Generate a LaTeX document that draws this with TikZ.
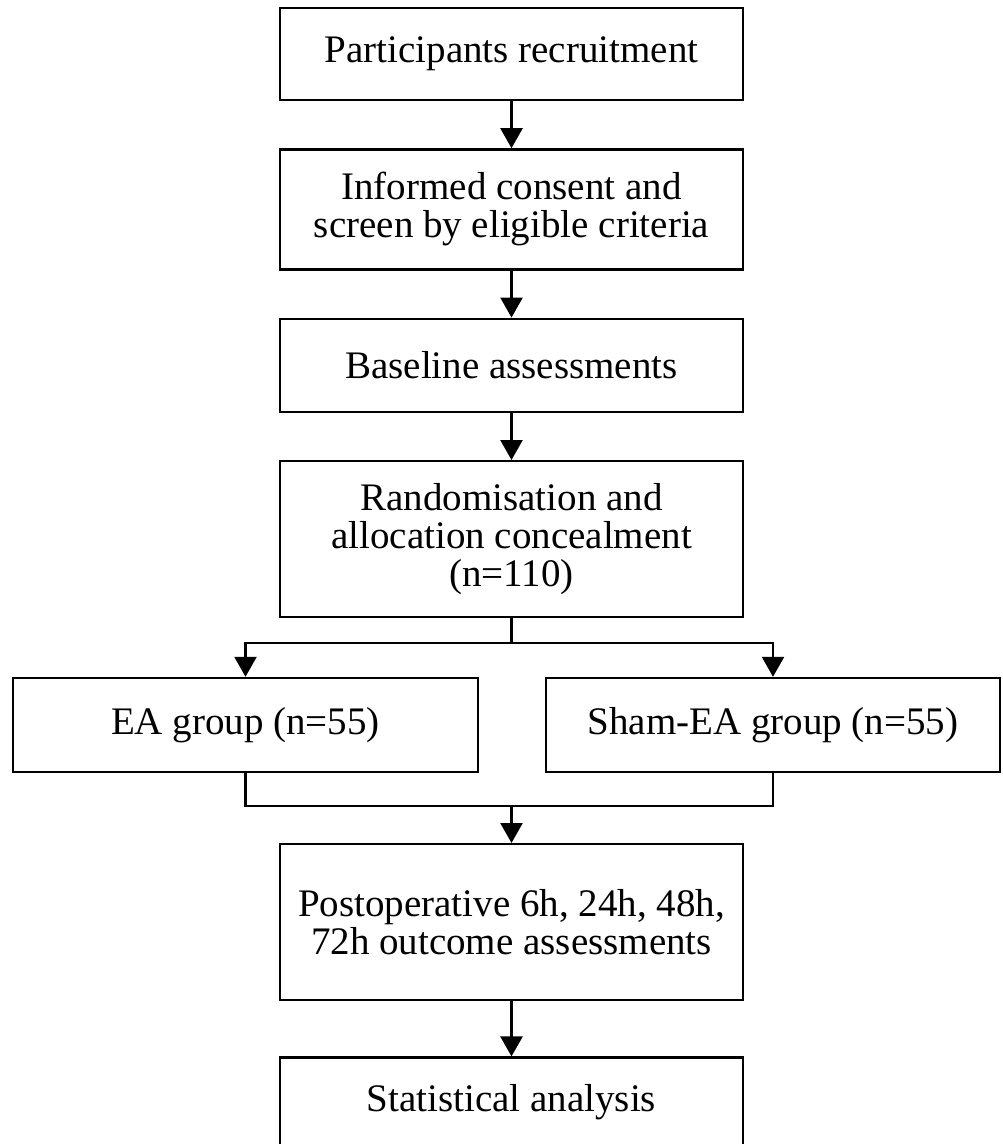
\documentclass[tikz,border=0pt]{standalone}
\usepackage{fontspec}
\setmainfont{Liberation Serif}
\usetikzlibrary{positioning,arrows.meta}

\begin{document}
\begin{tikzpicture}[
	x=0.5pt, y=0.5pt,
	box/.style={draw, line width=1.2pt, minimum width=231.5pt, align=center, inner sep=2pt, font=\fontsize{19.5}{19}\selectfont},
	arrow/.style={line width=1.2pt, -{Triangle[width=11pt,length=10pt]}},
	link/.style={line width=1.2pt},
	node distance=23.5pt
]
	\useasboundingbox (0,0) rectangle (1002,-1144);

	\node [box, minimum height=46pt] (recruit) at (511.5,-54) {Participants recruitment};
	\node [box, minimum height=60pt, below=of recruit] (consent) {Informed consent and\\screen by eligible criteria};
	\node [box, minimum height=46.5pt, below=of consent] (baseline) {Baseline assessments};
	\node [box, minimum height=78pt, below=of baseline] (random) {Randomisation and\\allocation concealment\\(n=110)};
	\coordinate (split) at (511.5,-643);
	\node [box, minimum width=232.5pt, minimum height=47pt] (ea) at (245.5,-725) {EA group (n=55)};
	\node [box, minimum width=227pt, minimum height=47pt] (sham) at (773,-725) {Sham-EA group (n=55)};
	\coordinate (merge) at (511.5,-806);
	\node [box, minimum height=78pt, below=18.5pt of merge] (outcome) {Postoperative 6h, 24h, 48h,\\72h outcome assessments};
	\node [box, minimum height=45pt, below=27.5pt of outcome] (stats) {Statistical analysis};

	\draw [arrow] (recruit) -- (consent);
	\draw [arrow] (consent) -- (baseline);
	\draw [arrow] (baseline) -- (random);
	\draw [link] (random) -- (split);
	\draw [arrow] (split) -| (ea);
	\draw [arrow] (split) -| (sham);
	\draw [link] (ea) |- (merge);
	\draw [link] (sham) |- (merge);
	\draw [arrow] (merge) -- (outcome);
	\draw [arrow] (outcome) -- (stats);

\end{tikzpicture}
\end{document}
